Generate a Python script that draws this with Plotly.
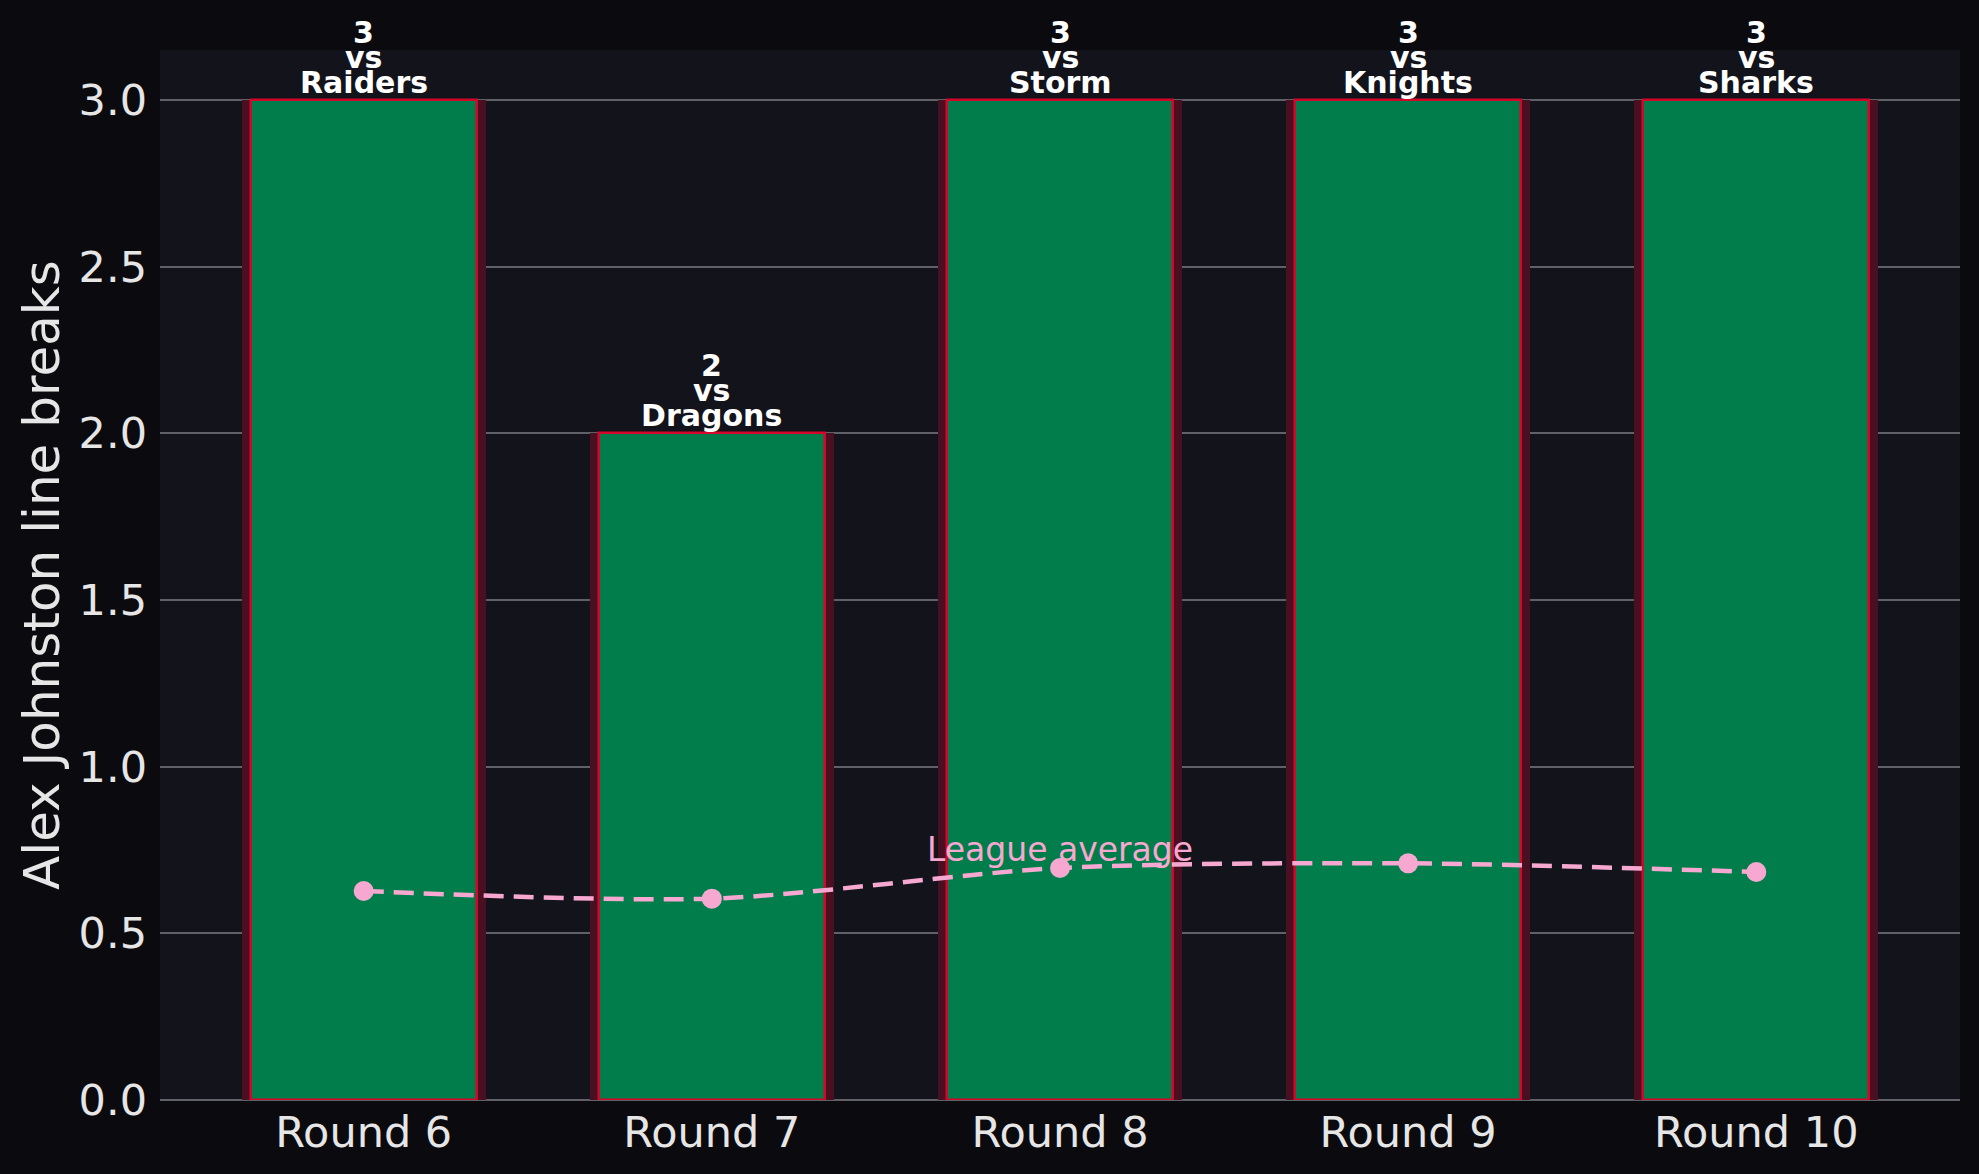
import plotly.graph_objects as go

rounds = ["Round 6", "Round 7", "Round 8", "Round 9", "Round 10"]
line_breaks = [3, 2, 3, 3, 3]
opponents = ["Raiders", "Dragons", "Storm", "Knights", "Sharks"]
league_avg = [0.627, 0.604, 0.696, 0.710, 0.684]

PAPER = "#0b0b0f"
PLOT = "#13131c"
GREEN = "#007d4b"
RED = "#d4062a"
GLOW = "#4a0f20"
PINK = "#f7a8d0"
TXT = "#e6e6e6"
FONT = "DejaVu Sans"

fig = go.Figure()
xs = list(range(len(rounds)))

fig.add_trace(go.Bar(x=xs, y=line_breaks, width=0.70, marker=dict(color=GLOW, line=dict(width=0)),
                     hoverinfo="skip", showlegend=False))
fig.add_trace(go.Bar(x=xs, y=line_breaks, width=0.65,
                     marker=dict(color=GREEN, line=dict(color=RED, width=2.5)), showlegend=False))
fig.add_trace(go.Scatter(x=xs, y=league_avg, mode="lines+markers",
                         line=dict(color=PINK, width=4.5, dash="20px,10px", shape="spline", smoothing=0.8),
                         marker=dict(color=PINK, size=20), showlegend=False))

annotations = []
for i, (v, opp) in enumerate(zip(line_breaks, opponents)):
    for j, t in enumerate([opp, "vs", str(v)]):
        annotations.append(dict(x=i, y=v, xref="x", yref="y", text="<b>%s</b>" % t,
                                showarrow=False, yanchor="bottom", yshift=-2 + 25 * j,
                                font=dict(family=FONT, size=30, color="white")))
annotations.append(dict(x=2, y=league_avg[2], xref="x", yref="y", text="League average",
                        showarrow=False, yanchor="bottom", yshift=-3,
                        font=dict(family=FONT, size=33, color=PINK)))

fig.update_layout(
    width=1979, height=1174,
    paper_bgcolor=PAPER, plot_bgcolor=PLOT,
    margin=dict(l=160, r=19, t=50, b=74),
    barmode="overlay", bargap=0,
    annotations=annotations,
    font=dict(family=FONT, color=TXT),
)
fig.update_xaxes(range=[-0.585, 4.585], tickvals=xs, ticktext=rounds, showgrid=False,
                 zeroline=False, showline=False, ticks="", ticklabelstandoff=3,
                 tickfont=dict(family=FONT, size=43, color=TXT))
fig.update_yaxes(range=[0, 3.15], tickvals=[0, 0.5, 1, 1.5, 2, 2.5, 3], tickformat=".1f",
                 showgrid=True, gridcolor="#606068", gridwidth=1.5, zeroline=True,
                 zerolinecolor="#606068", zerolinewidth=1.5, ticks="", ticklabelstandoff=12,
                 tickfont=dict(family=FONT, size=43, color=TXT),
                 title=dict(text="Alex Johnston line breaks", standoff=3,
                            font=dict(family=FONT, size=50, color=TXT)))

fig.write_html("out.html")
